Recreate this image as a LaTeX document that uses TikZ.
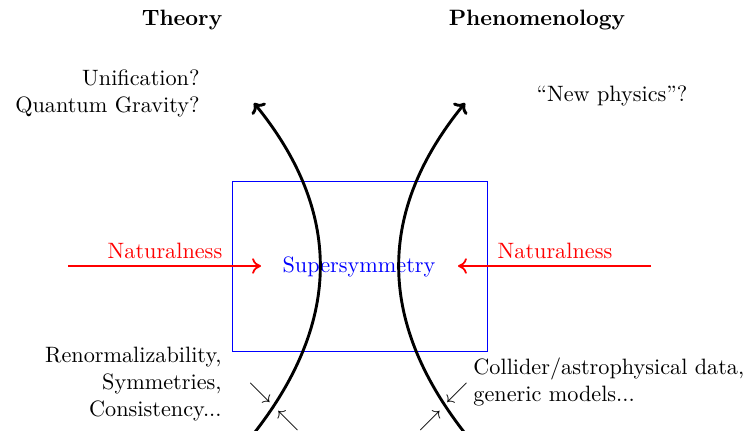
\documentclass[tikz,border=0pt]{standalone}
\usetikzlibrary{arrows.meta}
\begin{document}
\begin{tikzpicture}[x=0.45pt,y=-0.45pt,
  lbl/.style={inner sep=0pt},
  hdr/.style={inner sep=0pt,font=\bfseries},
  natarrow/.style={draw=red,thick,-{To[length=4pt,width=7pt]}},
  flow/.style={draw=black,line width=1.3pt,-{To[length=4pt,width=8pt]}},
  hint/.style={inner sep=0pt}]
\useasboundingbox (0,0) rectangle (748,430);
\clip (0,0) rectangle (748,430);
% headers
\node[hdr,anchor=base] (theory) at (182,25) {Theory};
\node[hdr,anchor=base] (pheno) at (537,25) {Phenomenology};
% top texts
\node[lbl,anchor=base east,align=right] (unif) at (200,112) {Unification?\\Quantum Gravity?};
\node[lbl,anchor=base] (newphys) at (612,101) {``New physics''?};
% box
\node[draw=blue,thin,minimum width=255*0.45pt,minimum height=170*0.45pt,inner sep=0pt] (box) at (359.5,266) {};
\node[lbl,anchor=base,text=blue] (susy) at (359,272) {Supersymmetry};
% naturalness
\coordinate (lstart) at (68,266);
\coordinate (lend) at (261,266);
\coordinate (rstart) at (651,266);
\coordinate (rend) at (458,266);
\draw[natarrow] (lstart) -- (lend);
\draw[natarrow] (rstart) -- (rend);
\node[lbl,anchor=base,text=red] (natl) at (165,258) {Naturalness};
\node[lbl,anchor=base,text=red] (natr) at (555,258) {Naturalness};
% curves
\coordinate (lb) at (255,432);
\coordinate (lt) at (254,103);
\coordinate (rb) at (464,432);
\coordinate (rt) at (465,103);
\draw[flow] (lb) .. controls (342,320) and (342,211) .. (lt);
\draw[flow] (rb) .. controls (377,320) and (377,211) .. (rt);
% bottom texts
\node[lbl,anchor=base east,align=right] (renorm) at (222,416) {Renormalizability,\\Symmetries,\\Consistency...};
\node[lbl,anchor=base west,align=left] (collider) at (473,401) {Collider/astrophysical data,\\generic models...};
% small hint arrows
\node[hint] (h1) at (260,393) {$\searrow$};
\node[hint] (h2) at (288,421) {$\nwarrow$};
\node[hint] (h3) at (430,421) {$\nearrow$};
\node[hint] (h4) at (457,393) {$\swarrow$};
\end{tikzpicture}
\end{document}
